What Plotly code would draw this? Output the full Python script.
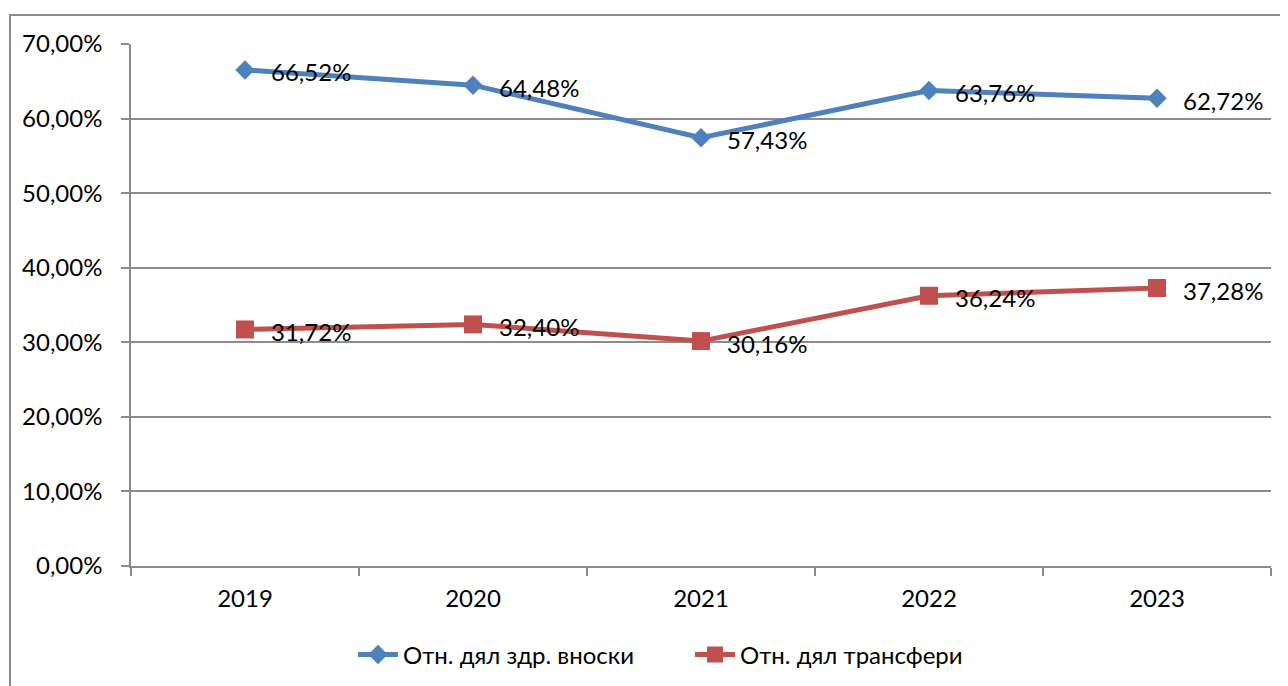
import plotly.graph_objects as go

years = ["2019", "2020", "2021", "2022", "2023"]
contrib = [66.52, 64.48, 57.43, 63.76, 62.72]
transfers = [31.72, 32.40, 30.16, 36.24, 37.28]
name_contrib = "Отн. дял здр. вноски"
name_transfers = "Отн. дял трансфери"

BLUE = "#4F81BD"
RED = "#C0504D"
GRID = "#8C8C8C"
FONT = "Lato, 'Open Sans', sans-serif"

OFF = 8  # page body margin
W, H = 1288 - OFF, 686 - OFF
ML, MT = 131 - OFF, 44 - OFF
PR, PB = 1271 - OFF, 566 - OFF
MR, MB = W - PR, H - PB
PW, PH = PR - ML, PB - MT

fig = go.Figure()
fig.add_trace(go.Scatter(
    x=years, y=contrib, name=name_contrib, mode="lines+markers",
    line=dict(color=BLUE, width=5),
    marker=dict(symbol="diamond", size=15, color=BLUE),
))
fig.add_trace(go.Scatter(
    x=years, y=transfers, name=name_transfers, mode="lines+markers",
    line=dict(color=RED, width=5),
    marker=dict(symbol="square", size=18, color=RED),
))

def fmt(v):
    return f"{v:.2f}".replace(".", ",") + "%"

for series in (contrib, transfers):
    for i, v in enumerate(series):
        fig.add_annotation(
            x=i, y=v, text=fmt(v), showarrow=False,
            xanchor="left", yanchor="middle", xshift=24, yshift=-2,
            font=dict(family=FONT, size=24, color="black"),
        )

# screenshot pixel -> paper coords
def px_x(p):
    return (p - OFF - ML) / PW

def px_y(p):
    return (PB - (p - OFF)) / PH

fig.add_shape(type="rect", xref="paper", yref="paper",
              x0=px_x(10), x1=px_x(1300), y0=px_y(700), y1=px_y(15),
              line=dict(color=GRID, width=2), fillcolor="rgba(0,0,0,0)",
              layer="below")

fig.update_layout(
    width=W, height=H,
    margin=dict(l=ML, r=MR, t=MT, b=MB, autoexpand=False),
    paper_bgcolor="white", plot_bgcolor="white",
    separators=",.",
    font=dict(family=FONT, size=24, color="black"),
    showlegend=True,
    legend=dict(orientation="h", x=px_x(353), xanchor="left",
                y=px_y(655), yanchor="middle",
                font=dict(family=FONT, size=24, color="black"),
                itemwidth=40, entrywidth=282),
)
fig.update_yaxes(
    range=[0, 70], dtick=10, tickformat=".2f", ticksuffix="%",
    showgrid=True, gridcolor=GRID, gridwidth=1.5,
    showline=True, linecolor=GRID, linewidth=1.5,
    ticks="outside", ticklen=8, tickcolor=GRID, tickwidth=1.5,
    ticklabelstandoff=14, zeroline=False, fixedrange=True,
)
fig.update_xaxes(
    type="category", tickson="boundaries", range=[-0.5, 4.5],
    showline=True, linecolor=GRID, linewidth=1.5,
    ticks="outside", ticklen=8, tickcolor=GRID, tickwidth=1.5,
    showgrid=False, ticklabelstandoff=10, tickangle=0,
)

fig.write_html("out.html")
